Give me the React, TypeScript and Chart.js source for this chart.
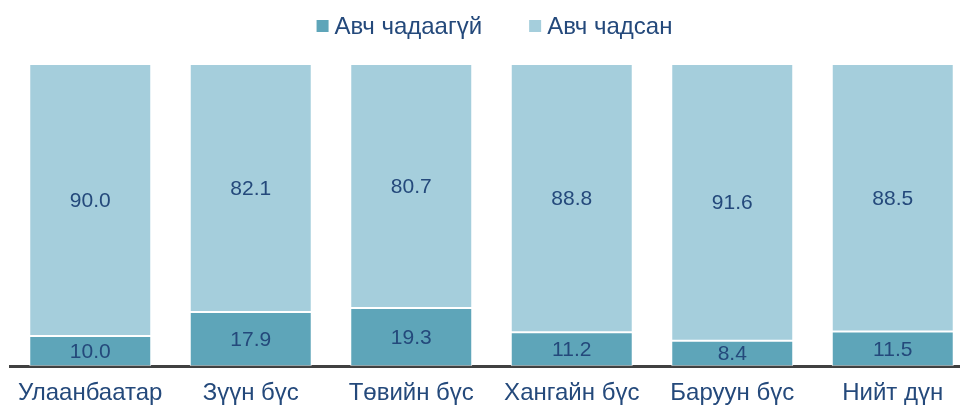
import React, { useEffect, useRef } from "react";
import { Chart, registerables } from "chart.js";

Chart.register(...registerables);

const categories = ["Улаанбаатар", "Зүүн бүс", "Төвийн бүс", "Хангайн бүс", "Баруун бүс", "Нийт дүн"];
const notAble = [10.0, 17.9, 19.3, 11.2, 8.4, 11.5];
const able = [90.0, 82.1, 80.7, 88.8, 91.6, 88.5];
const seriesNames = ["Авч чадаагүй", "Авч чадсан"];

const DARK = "#5EA5B9";
const LIGHT = "#A5CEDC";
const TEXT = "#24497B";
const FONT = "'Liberation Sans', Arial, sans-serif";

const labelPlugin = {
  id: "segLabels",
  afterDatasetsDraw(chart: any) {
    const ctx = chart.ctx;
    ctx.save();
    ctx.font = `21px ${FONT}`;
    ctx.fillStyle = TEXT;
    ctx.textAlign = "center";
    ctx.textBaseline = "middle";
    chart.data.datasets.forEach((ds: any, di: number) => {
      const meta = chart.getDatasetMeta(di);
      meta.data.forEach((bar: any, i: number) => {
        const y = (bar.y + bar.base) / 2;
        ctx.fillText(Number(ds.data[i]).toFixed(1), bar.x, y + 1);
      });
    });
    ctx.restore();
  },
};

const legendPlugin = {
  id: "customLegend",
  afterDraw(chart: any) {
    const ctx = chart.ctx;
    ctx.save();
    ctx.font = `24px ${FONT}`;
    ctx.textBaseline = "middle";
    ctx.textAlign = "left";
    const box = 12;
    const gapBoxText = 6;
    const gapItems = 47;
    const items = chart.data.datasets.map((ds: any) => ({
      text: ds.label,
      color: ds.backgroundColor,
      w: box + gapBoxText + ctx.measureText(ds.label).width,
    }));
    const total = items.reduce((s: number, it: any) => s + it.w, 0) + gapItems * (items.length - 1);
    const cx = (chart.chartArea.left + chart.chartArea.right) / 2 + 3;
    let x = cx - total / 2;
    const y = 26;
    items.forEach((it: any) => {
      ctx.fillStyle = it.color;
      ctx.fillRect(x, y - box / 2, box, box);
      ctx.fillStyle = TEXT;
      ctx.fillText(it.text, x + box + gapBoxText, y + 1);
      x += it.w + gapItems;
    });
    ctx.restore();
  },
};

export default function App() {
  const ref = useRef<HTMLCanvasElement>(null);
  useEffect(() => {
    if (!ref.current) return;
    const chart = new Chart(ref.current, {
      type: "bar",
      data: {
        labels: categories,
        datasets: [
          {
            label: seriesNames[0],
            data: notAble,
            backgroundColor: DARK,
            borderColor: "rgba(255,255,255,0.7)",
            borderWidth: 1,
            borderSkipped: false,
            categoryPercentage: 1,
            barPercentage: 0.76,
          },
          {
            label: seriesNames[1],
            data: able,
            backgroundColor: LIGHT,
            borderColor: "rgba(255,255,255,0.7)",
            borderWidth: 1,
            borderSkipped: false,
            categoryPercentage: 1,
            barPercentage: 0.76,
          },
        ],
      },
      options: {
        animation: false,
        responsive: false,
        maintainAspectRatio: false,
        layout: { padding: { top: 64, left: 10, right: 7, bottom: 4 } },
        plugins: {
          legend: { display: false },
          tooltip: { enabled: false },
          title: { display: false },
        },
        scales: {
          x: {
            stacked: true,
            grid: { display: false, drawTicks: false },
            border: { display: true, color: "#404040", width: 3 },
            ticks: {
              color: TEXT,
              font: { family: FONT, size: 24 },
              padding: 13,
              maxRotation: 0,
              autoSkip: false,
            },
          },
          y: {
            stacked: true,
            display: false,
            min: 0,
            max: 100,
          },
        },
      },
      plugins: [labelPlugin, legendPlugin],
    });
    return () => chart.destroy();
  }, []);
  return (
    <div style={{ position: "fixed", left: 0, top: 0, width: 960, height: 406, overflow: "hidden", background: "#fff" }}>
      <canvas ref={ref} width={980} height={425} style={{ display: "block", width: 980, height: 425 }} />
    </div>
  );
}
